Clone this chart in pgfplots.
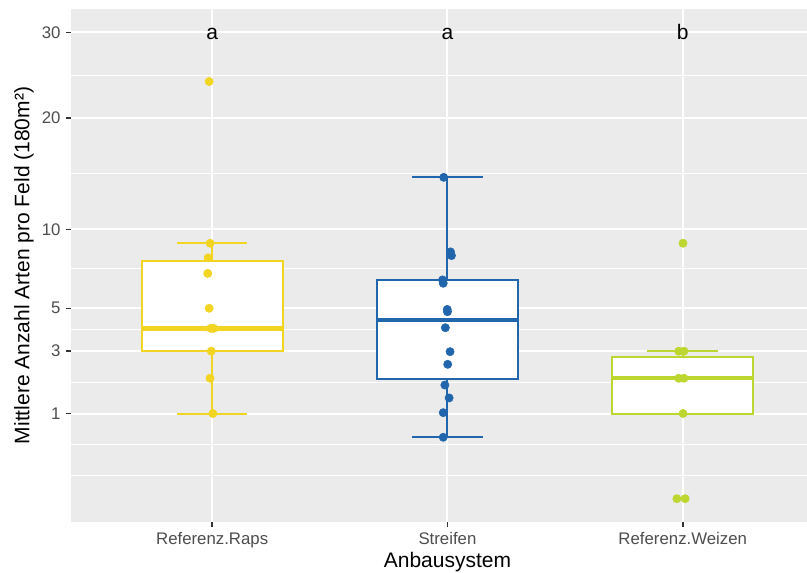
\documentclass[border=0pt]{standalone}
\usepackage{fontspec}
\setmainfont{Liberation Sans}
\usepackage{pgfplots}
\pgfplotsset{compat=1.18}
\usepgfplotslibrary{statistics}
\definecolor{raps}{RGB}{242,213,35}
\definecolor{streifen}{RGB}{33,102,172}
\definecolor{weizen}{RGB}{190,214,48}
\definecolor{panelbg}{RGB}{235,235,235}
\definecolor{ticklab}{RGB}{77,77,77}
\definecolor{tickcol}{RGB}{51,51,51}
\begin{document}
\begin{tikzpicture}
\useasboundingbox (-53.25pt,-38.25pt) rectangle (552pt,391.5pt);
\begin{axis}[
  scale only axis, width=552pt, height=384.75pt,
  xmin=0.4, xmax=3.528,
  ymin=-0.075, ymax=33.07,
  y coord trafo/.code={\edef\trafoarg{#1}\ifx\trafoarg\empty\def\pgfmathresult{}\else\pgfmathparse{sign(#1)*sqrt(abs(#1))}\fi},
  y coord inv trafo/.code={\edef\trafoarg{#1}\ifx\trafoarg\empty\def\pgfmathresult{}\else\pgfmathparse{(#1)*abs(#1)}\fi},
  axis background/.style={fill=panelbg},
  axis line style={draw=none},
  xtick={1,2,3},
  xticklabels={Referenz.Raps,Streifen,Referenz.Weizen},
  ytick={1,3,5,10,20,30},
  yticklabels={1,3,5,10,20,30},
  minor ytick={0.0718,0.402,1.866,3.936,7.285,14.57,24.75},
  xmajorgrids, ymajorgrids, yminorgrids,
  major grid style={white, line width=1.5pt},
  minor grid style={white, line width=0.75pt},
  tick align=outside,
  major tick length=3.4pt,
  minor tick length=0pt,
  tick style={tickcol, line width=1.1pt},
  xtick pos=bottom, ytick pos=left,
  tick label style={font=\fontsize{12.6}{14}\selectfont, text=ticklab},
  /pgf/number format/assume math mode=true,
  xticklabel style={anchor=base, inner sep=0pt, yshift=-13.85pt},
  yticklabel style={anchor=east, inner sep=0pt, xshift=-4.3pt},
  xlabel={Anbausystem},
  ylabel={Mittlere Anzahl Arten pro Feld (180m²)},
  label style={font=\fontsize{15.75}{18}\selectfont, text=black},
  xlabel style={at={(rel axis cs:0.5115,0)}, anchor=base, inner sep=0pt, yshift=-34.5pt},
  ylabel style={at={(rel axis cs:-0.0564,0.5)}, anchor=base, inner sep=0pt},
  boxplot/draw direction=y,
  clip=false,
]
% boxes
\addplot[draw=raps, line width=1.5pt, fill=white, solid,
  boxplot prepared={lower whisker=1, lower quartile=3, median=4,
    upper quartile=7.78, upper whisker=9, draw position=1,
    box extend=0.6, whisker extend=0.3,
    every median/.style={line width=3.2pt}}] coordinates {};
\addplot[draw=streifen, line width=1.5pt, fill=white, solid,
  boxplot prepared={lower whisker=0.52, lower quartile=1.96, median=4.39,
    upper quartile=6.57, upper whisker=14.24, draw position=2,
    box extend=0.6, whisker extend=0.3,
    every median/.style={line width=3.2pt}}] coordinates {};
\addplot[draw=weizen, line width=1.5pt, fill=white, solid,
  boxplot prepared={lower whisker=1, lower quartile=1, median=2,
    upper quartile=2.76, upper whisker=3, draw position=3,
    box extend=0.6, whisker extend=0.3,
    every median/.style={line width=3.2pt}}] coordinates {};
% points
\addplot[only marks, mark=*, mark size=3.1pt, color=raps] coordinates {
 (0.987,24) (0.991,9) (0.983,8) (0.981,7) (0.987,5) (0.994,4) (1.006,4)
 (0.996,3) (0.991,2) (1.003,1)};
\addplot[only marks, mark=*, mark size=3.1pt, color=streifen] coordinates {
 (1.984,14.24) (2.013,8.4) (2.017,8.15) (1.979,6.6) (1.982,6.4) (1.999,4.94)
 (2.000,4.82) (1.991,4.03) (2.011,2.98) (2.001,2.49) (1.989,1.78)
 (2.007,1.40) (1.982,1.02) (1.982,0.52)};
\addplot[only marks, mark=*, mark size=3.1pt, color=weizen] coordinates {
 (3.001,9) (2.983,3) (3.005,3) (2.983,2) (3.005,2) (3.001,1)
 (2.975,0) (3.010,0)};
% letters
\node[font=\fontsize{15.75}{18}\selectfont, anchor=base, yshift=-5.25pt] at (axis cs:1,30) {a};
\node[font=\fontsize{15.75}{18}\selectfont, anchor=base, yshift=-5.25pt] at (axis cs:2,30) {a};
\node[font=\fontsize{15.75}{18}\selectfont, anchor=base, yshift=-5.25pt] at (axis cs:3,30) {b};
\end{axis}
\end{tikzpicture}
\end{document}
